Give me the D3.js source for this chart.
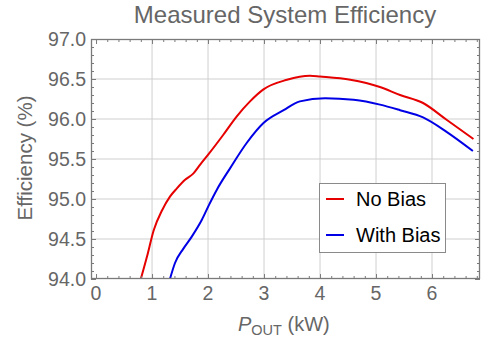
<!DOCTYPE html>
<html><head><meta charset="utf-8">
<script src="https://cdn.jsdelivr.net/npm/d3@7"></script>
<style>body{margin:0;background:#fff}svg{display:block;font-family:"Liberation Sans",Arial,sans-serif}</style>
</head><body>
<script>
const noBiasP = [0.80,0.91,1.03,1.18,1.32,1.44,1.59,1.74,1.86,2.02,2.27,2.51,2.75,2.99,3.41,3.82,4.0,4.54,5.07,5.43,5.84,6.26,6.74];
const noBiasE = [94.0,94.28,94.61,94.86,95.03,95.13,95.24,95.32,95.43,95.57,95.80,96.03,96.22,96.37,96.49,96.54,96.53,96.49,96.40,96.30,96.20,95.99,95.75];
const withBiasP = [1.32,1.41,1.56,1.71,1.89,2.02,2.16,2.39,2.69,2.99,3.35,3.64,4.09,4.6,5.07,5.43,5.84,6.26,6.73];
const withBiasE = [94.0,94.20,94.38,94.53,94.74,94.93,95.12,95.38,95.70,95.95,96.11,96.22,96.26,96.24,96.18,96.11,96.02,95.84,95.60];
const xTicks = [0,1,2,3,4,5,6];
const yTicks = [94.0,94.5,95.0,95.5,96.0,96.5,97.0];
const seriesNames = ["No Bias","With Bias"];
const seriesColors = ["#e60000","#0000e6"];
const title = "Measured System Efficiency";

const W=500,H=341;
const L=91,R=480,T=39,B=279;
const svg=d3.select("body").append("svg").attr("width",W).attr("height",H);
const x=d3.scaleLinear().domain([-0.09,6.857]).range([L,R]);
const y=d3.scaleLinear().domain([94,97]).range([B,T]);
const gray="#666", frame="#7a7a7a";

// gridlines
svg.append("g").selectAll("line").data(xTicks.filter(d=>d>0)).join("line")
 .attr("x1",d=>x(d)).attr("x2",d=>x(d)).attr("y1",T).attr("y2",B)
 .attr("stroke","#cfcfcf").attr("stroke-width",1);
svg.append("g").selectAll("line").data(yTicks.filter(d=>d>94&&d<97)).join("line")
 .attr("y1",d=>y(d)).attr("y2",d=>y(d)).attr("x1",L).attr("x2",R)
 .attr("stroke","#cfcfcf").attr("stroke-width",1);

// curves
svg.append("clipPath").attr("id","c").append("rect").attr("x",L).attr("y",T).attr("width",R-L).attr("height",B-T);
const line=d3.line().x(d=>x(d[0])).y(d=>y(d[1])).curve(d3.curveMonotoneX);
const series=[d3.zip(noBiasP,noBiasE), d3.zip(withBiasP,withBiasE)];
svg.append("g").attr("clip-path","url(#c)").selectAll("path").data(series).join("path")
 .attr("d",line).attr("fill","none").attr("stroke",(d,i)=>seriesColors[i]).attr("stroke-width",2)
 .attr("stroke-linejoin","round");

// frame
svg.append("rect").attr("x",L+0.5).attr("y",T+0.5).attr("width",R-L-1).attr("height",B-T-1)
 .attr("fill","none").attr("stroke",frame).attr("stroke-width",1.3);

// ticks (inward, all sides)
const xMinor=d3.range(0,34).map(i=>+(i*0.2+0.2).toFixed(2)).filter(v=>v<6.85 && Math.abs(v-Math.round(v))>1e-6);
const yMinor=d3.range(1,30).map(i=>+(94+i*0.1).toFixed(2)).filter(v=>Math.abs(v*2-Math.round(v*2))>1e-6);
const tg=svg.append("g").attr("stroke",frame).attr("stroke-width",1);
[[xTicks,5],[xMinor,3]].forEach(([arr,len])=>{
  tg.append("g").selectAll("line").data(arr).join("line").attr("x1",d=>x(d)+0.5).attr("x2",d=>x(d)+0.5).attr("y1",B).attr("y2",B-len);
  tg.append("g").selectAll("line").data(arr).join("line").attr("x1",d=>x(d)+0.5).attr("x2",d=>x(d)+0.5).attr("y1",T).attr("y2",T+len);
});
[[yTicks,5],[yMinor,3]].forEach(([arr,len])=>{
  tg.append("g").selectAll("line").data(arr).join("line").attr("y1",d=>y(d)+0.5).attr("y2",d=>y(d)+0.5).attr("x1",L).attr("x2",L+len);
  tg.append("g").selectAll("line").data(arr).join("line").attr("y1",d=>y(d)+0.5).attr("y2",d=>y(d)+0.5).attr("x1",R).attr("x2",R-len);
});

// tick labels
svg.append("g").selectAll("text").data(xTicks).join("text")
 .attr("x",d=>x(d)).attr("y",300).attr("text-anchor","middle").attr("font-size",19.5).attr("fill",gray).text(d=>d);
svg.append("g").selectAll("text").data(yTicks).join("text")
 .attr("x",86).attr("y",d=>y(d)+7).attr("text-anchor","end").attr("font-size",19.5).attr("fill",gray).text(d=>d.toFixed(1));

// title
svg.append("text").attr("x",285).attr("y",23).attr("text-anchor","middle").attr("font-size",24).attr("fill",gray).text(title);

// axis labels
const xl=svg.append("text").attr("x",238).attr("y",331).attr("font-size",20).attr("fill",gray);
xl.append("tspan").attr("font-style","italic").text("P");
xl.append("tspan").attr("font-size",14.5).attr("dy",4).text("OUT");
xl.append("tspan").attr("dy",-4).text(" (kW)");
svg.append("text").attr("transform","translate(32,158) rotate(-90)").attr("text-anchor","middle")
 .attr("font-size",20.5).attr("fill",gray).text("Efficiency (%)");

// legend
const lg=svg.append("g");
lg.append("rect").attr("x",319.5).attr("y",183.5).attr("width",126).attr("height",69).attr("fill","#fff").attr("stroke","#8a8a8a").attr("stroke-width",1);
seriesNames.forEach((n,i)=>{
  const cy=[199,235][i];
  lg.append("line").attr("x1",326).attr("x2",344).attr("y1",cy).attr("y2",cy).attr("stroke",seriesColors[i]).attr("stroke-width",2);
  lg.append("text").attr("x",356).attr("y",cy+7).attr("font-size",20).attr("fill","#000").text(n);
});
</script>
</body></html>
